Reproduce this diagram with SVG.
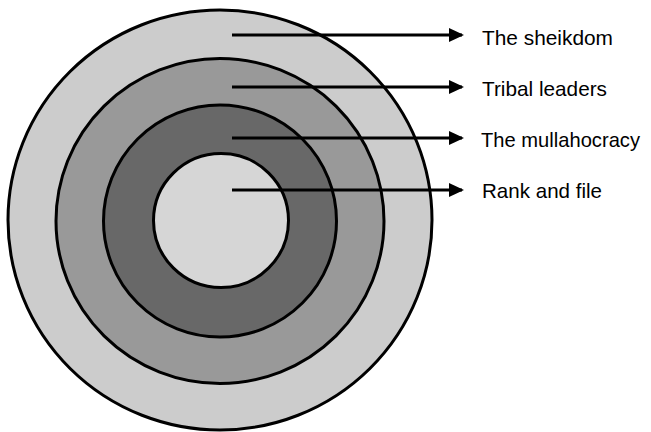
<svg xmlns="http://www.w3.org/2000/svg" width="651" height="432" viewBox="0 0 651 432">
<style>
.ring{stroke:#000;stroke-width:3}
.lbl{font-family:"Liberation Sans",Arial,sans-serif;font-size:21px;fill:#000}
.arr{stroke:#000;stroke-width:3;fill:none}
</style>
<defs>
<marker id="ah" markerUnits="userSpaceOnUse" markerWidth="16" markerHeight="16" refX="13" refY="7" orient="auto">
<path d="M0,0 L15,7 L0,14 Z" fill="#000"/>
</marker>
</defs>
<rect width="651" height="432" fill="#fff"/>
<g id="ring-sheikdom"><ellipse class="ring" cx="220" cy="220" rx="212" ry="210" fill="#cccccc"/></g>
<g id="ring-tribal"><ellipse class="ring" cx="220" cy="221" rx="164" ry="162.5" fill="#999999"/></g>
<g id="ring-mullah"><ellipse class="ring" cx="220" cy="221" rx="116.5" ry="116" fill="#686868"/></g>
<g id="ring-rank"><ellipse class="ring" cx="221" cy="220.5" rx="67.5" ry="67" fill="#d6d6d6"/></g>
<g id="connectors">
<line class="arr" x1="232" y1="35" x2="462" y2="35" marker-end="url(#ah)"/>
<line class="arr" x1="232" y1="87" x2="462" y2="87" marker-end="url(#ah)"/>
<line class="arr" x1="232" y1="138" x2="462" y2="138" marker-end="url(#ah)"/>
<line class="arr" x1="232" y1="190" x2="462" y2="190" marker-end="url(#ah)"/>
</g>
<g id="label-sheikdom"><text class="lbl" x="482" y="45" textLength="131" lengthAdjust="spacingAndGlyphs">The sheikdom</text></g>
<g id="label-tribal"><text class="lbl" x="482" y="96" textLength="125" lengthAdjust="spacingAndGlyphs">Tribal leaders</text></g>
<g id="label-mullah"><text class="lbl" x="481" y="147" textLength="159" lengthAdjust="spacingAndGlyphs">The mullahocracy</text></g>
<g id="label-rank"><text class="lbl" x="482" y="198" textLength="120" lengthAdjust="spacingAndGlyphs">Rank and file</text></g>
</svg>
